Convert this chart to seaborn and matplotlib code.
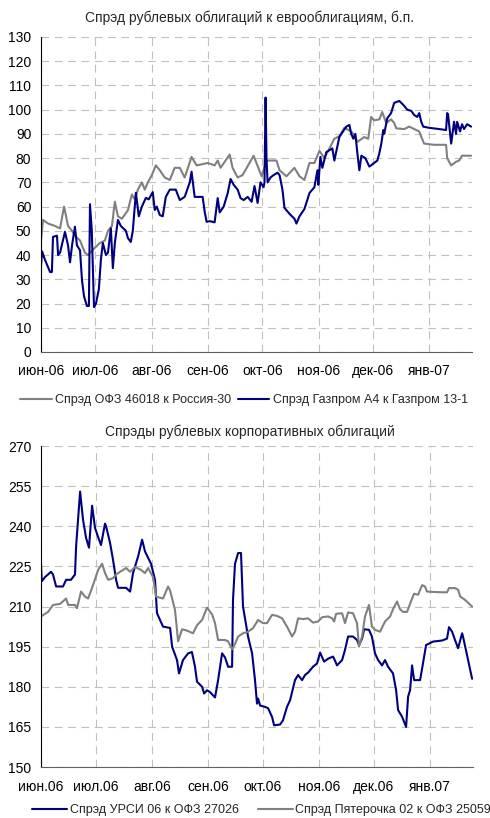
import pandas as pd
import matplotlib
matplotlib.use('Agg')
import matplotlib.pyplot as plt
import seaborn as sns

sns.set_style('white')
plt.rcParams['font.family'] = ['Liberation Sans', 'DejaVu Sans']

start = pd.Timestamp('2006-06-01')
month_starts = pd.date_range('2006-06-01', '2007-01-01', freq='MS')
top_labels = ['июн-06', 'июл-06', 'авг-06', 'сен-06', 'окт-06', 'ноя-06', 'дек-06', 'янв-07']
bottom_labels = ['июн.06', 'июл.06', 'авг.06', 'сен.06', 'окт.06', 'ноя.06', 'дек.06', 'янв.07']

# days since 1 June 2006 and spread values
ofz_days = [0, 1.1, 3.9, 7.7, 10.5, 12.7, 14.9, 17.1, 18.7, 21.5, 24.2, 25.9, 29.7, 32.5, 35.2,
            36.9, 39.1, 40.7, 42.4, 44.6, 47.9, 50.1, 51.7, 53.4, 55.6, 57.2, 58.9, 61.1, 63.3,
            65.5, 68.2, 71, 73.7, 76.5, 79.2, 83, 85.8, 91.9, 95.7, 97.4, 99, 104, 105.6, 108.4,
            111.1, 117.2, 121.6, 124.3, 129.8, 131.5, 135.3, 139.7, 142.5, 145.2, 148, 150.7,
            153.5, 156.2, 159, 161.7, 164.5, 167.2, 171, 172.7, 174.4, 178.2, 180.4, 182, 183.7,
            186.5, 188.1, 190.3, 193, 194.7, 195.8, 200.2, 203, 205.7, 208.5, 209.6, 211.2,
            216.7, 223.3, 223.9, 226.1, 228.8, 230.5, 232.1, 237.1]
ofz_spread = [46, 54.5, 53, 52, 51, 60, 52, 50, 48, 46, 41, 40, 43, 45, 46,
              50, 52, 62, 56, 55, 58.5, 65, 63, 67, 70, 67, 70, 73, 77,
              75, 72, 71, 76, 76, 72, 80.5, 77, 78, 77, 79, 76, 81.5, 76, 72,
              73, 81, 72.5, 79, 79, 75, 72.5, 76, 72.5, 71, 78, 78,
              83, 80, 84, 88, 89, 92.5, 91, 89.6, 86.7, 88.7, 88, 97, 95.6,
              96, 99, 94.5, 96, 94.5, 92.3, 92, 93, 92, 91, 88.8, 86,
              85.5, 85.5, 80, 77, 78.5, 79, 81, 81]

gazprom_days = [0, 0.6, 2.2, 5, 6, 6.6, 8.8, 9.4, 10.5, 13.2, 14.9, 16, 17.1, 18.7, 19.8, 21.5,
                22.6, 23.7, 25.3, 26.4, 27, 28, 29.2, 30.3, 31.9, 33, 34.1, 35.8, 36.9, 38.5,
                39.6, 40.7, 42.4, 44, 46.8, 47.9, 49.5, 50.6, 52.3, 53.9, 55.6, 57.8, 59.4,
                61.6, 62.7, 63.8, 65.5, 67.1, 68.8, 71, 74.3, 76.5, 79.2, 82, 83, 84.7, 86.4,
                89.1, 90.2, 91.3, 93, 95.7, 97.4, 98.5, 100.7, 102.9, 104.5, 106.2, 108.4, 110,
                111.7, 113.9, 116.1, 117.7, 119.4, 121, 122.7, 123.2, 123.8, 124.3, 124.9, 126.5,
                128.2, 130.4, 131.5, 133.1, 134.2, 137, 139.7, 140.8, 142.5, 145.2, 148, 150.7,
                152.4, 152.9, 154, 155.1, 157.3, 160.6, 161.7, 164.5, 168.3, 170, 171, 172.2,
                173.3, 174.4, 175.5, 176.6, 178.8, 181, 183.7, 185.4, 186.5, 187.6, 188.7, 189.2,
                190.9, 193, 194.7, 197.5, 199.7, 201.9, 204.1, 205.7, 207.4, 208.5, 209.6, 210.7,
                214, 219.5, 223.3, 223.9, 224.4, 226.1, 227.7, 228.8, 229.4, 231, 232.1, 233.2,
                234.9, 237.1]
gazprom_spread = [35.5, 41.5, 38, 33, 33, 47.5, 48, 40, 41, 49.6, 44, 37, 44, 51.7, 44, 42,
                  29.6, 23, 19, 19, 61, 50, 18.5, 20, 26, 38, 45, 40, 41, 51,
                  34.6, 45, 54.5, 52, 50, 47, 45.4, 50, 65.7, 56, 60, 63.6, 63,
                  66, 58.6, 60, 56.5, 56, 64, 67, 67, 62.7, 64, 70, 74.4, 64, 64,
                  64, 58, 53.7, 54, 53.5, 63.5, 57.6, 60, 65.5, 71.4, 69, 67, 63.5,
                  62.7, 64, 62, 68.5, 61.5, 70, 68, 70, 105, 80, 70, 72,
                  73, 74, 73, 67, 59.5, 57, 55, 53, 56, 59, 65.6, 68,
                  75, 69, 80.5, 76, 82.5, 84, 79, 88.8, 93, 93.7, 90, 88,
                  90, 82, 75, 81, 80, 76.5, 78, 79, 82, 86, 91.6, 90,
                  96.5, 98.6, 102.8, 103.6, 102, 100, 99.5, 97.8, 97, 98.6, 95, 93,
                  92.5, 92, 91.6, 98.6, 98, 86, 95, 90, 95, 91, 94, 92,
                  94, 93]

ursi_days = [0, 0.4, 2.2, 5.5, 6.6, 8.3, 12.1, 13.8, 16.5, 18.7, 19.3, 21.5, 23.1, 24.8, 26.4, 28.1,
             29.7, 31.4, 33, 35.2, 35.8, 38, 39.6, 41.3, 42.4, 46.8, 49, 50.6, 53.4, 55.6, 57.2,
             60.5, 62.7, 63.8, 67.1, 71, 72.1, 74.8, 75.9, 78.1, 80.9, 83, 84.7, 85.8, 88.6,
             89.7, 91.3, 93, 95.7, 97.4, 99.6, 101.2, 102.9, 105.1, 105.6, 106.7, 108.4, 110,
             111.1, 113.9, 116.1, 117.7, 118.8, 119.4, 120.5, 123.2, 124.9, 127.1, 128.2, 131.5,
             133.1, 135.3, 137, 139.7, 141.4, 143.6, 145.2, 146.9, 149.6, 151.8, 153.5, 155.7,
             157.9, 160.6, 161.7, 162.8, 165.6, 167.2, 168.9, 171.6, 173.8, 174.9, 176.6, 177.7,
             180.4, 182, 183.7, 185.4, 187.6, 189.2, 190.9, 193.6, 195.3, 196.4, 198.6, 200.8,
             201.9, 203, 204.1, 205.2, 208.5, 210.1, 211.8, 215.6, 220.6, 223.3, 224.4, 226.1,
             227.7, 229.4, 231.6, 232.1, 234.9, 237.1]
ursi_spread = [226, 219.4, 221, 223, 222, 217.5, 217.5, 220, 220, 222, 232.5, 253, 242.5, 235.6, 232, 247.7,
               239.4, 236, 233, 241, 240, 233.7, 227.5, 220, 217, 217, 215.6, 222.5, 228.7, 235, 230.6,
               226, 220, 207.5, 202.5, 202, 195, 190, 185, 190, 192.5, 193, 187.5, 181.9, 180,
               177.5, 178.7, 178, 176, 182.5, 192.5, 191, 187.5, 187.5, 212.5, 226, 230, 230,
               210, 198.7, 192.5, 182.5, 173.7, 175.6, 173, 172.5, 172, 168.7, 165.6, 165.9,
               167.5, 172.5, 175, 182.5, 184.4, 182.5, 184.4, 185.3, 187.5, 188.7, 192.8, 189.4,
               190.5, 191.3, 189.8, 188, 190, 193.8, 198.8, 198.8, 197.5, 195.6, 198, 201.5,
               201.3, 198.8, 192.5, 190, 188, 190, 187.5, 185, 178.8, 171.3, 168.8, 165,
               176.3, 178.8, 188, 182.5, 182.5, 188.8, 195.6, 196.9, 197.3, 198, 202.3, 200.6,
               197.5, 194.4, 200, 198.8, 190, 183]

pyat_days = [0, 3.9, 6.6, 10.5, 13.8, 14.9, 18.7, 19.8, 22, 24.2, 25.9, 28.6, 31.4, 33.6, 35.2,
             36.9, 39.6, 41.3, 43.5, 46.8, 49, 51.7, 55, 57.2, 58.9, 61.6, 63.3, 67.1, 69.9, 71,
             73.7, 75.4, 77.6, 80.3, 83.6, 85.8, 88.6, 91.3, 94.1, 95.7, 97.4, 101.2, 102.9,
             105.1, 106.7, 108.4, 111.1, 113.9, 116.6, 119.4, 122.1, 124.3, 127.1, 129.8, 132.6,
             135.3, 138.1, 139.7, 141.4, 144.1, 146.9, 149.6, 152.4, 154.6, 157.9, 160.1, 161.2,
             162.3, 165.6, 167.2, 168.9, 171.6, 173.8, 174.9, 176.6, 178.2, 180.4, 182, 183.7,
             186.5, 189.2, 192, 193.6, 195.8, 197.5, 199.1, 201.3, 204.1, 205.2, 207.4, 209.6,
             211.2, 212.3, 217.8, 223.3, 224.4, 227.7, 229.4, 230.5, 233.2, 237.1]
pyat_spread = [206.3, 208, 210.6, 211, 213, 210.6, 210.6, 209.4, 215.6, 213.7, 213, 218, 223.7, 226, 222.5,
               220, 220.6, 222, 223, 224.4, 223, 224.8, 223.7, 222.5, 224.4, 221, 213.7, 213, 217.5, 216,
               208.7, 197, 201.5, 201, 200, 203, 205, 209.6, 207, 203.8, 197.5, 197.5, 197,
               194, 196, 198.8, 200, 200.6, 201.9, 205, 203.8, 203.8, 206.9, 206.5, 205.6,
               202.5, 198.8, 200.6, 205.6, 205.3, 205.6, 204, 204.4, 206, 206.3, 205.6, 204.4,
               207.3, 207.5, 203.8, 207.8, 207.5, 203.8, 195, 198.8, 206.3, 210.6, 202.5, 201.3,
               200.6, 204.4, 206.3, 209, 211.9, 209, 208, 208, 213, 214.8, 214.4, 218,
               217.5, 215.6, 215.4, 215.3, 216.9, 216.9, 216.3, 213.8, 212.5, 210]

navy = '#000080'
grey = '#808080'


def to_frame(days, values):
    return pd.DataFrame({'date': start + pd.to_timedelta(days, unit='D'), 'value': values})


def style_axes(ax, yticks, labels):
    ax.set_xlim(start, start + pd.Timedelta(days=237.6))
    ax.set_ylim(yticks[0], yticks[-1])
    ax.set_yticks(yticks)
    ax.set_xticks(month_starts)
    ax.set_xticklabels(labels)
    ax.set_xlabel('')
    ax.set_ylabel('')
    ax.grid(True, color='#c0c0c0', linestyle=(0, (7, 5)), linewidth=0.8)
    ax.set_axisbelow(True)
    ax.tick_params(length=0, labelsize=10, colors='black')
    ax.tick_params(axis='x', pad=9)
    ax.tick_params(axis='y', pad=7)
    for s in ['top', 'right']:
        ax.spines[s].set_visible(False)
    ax.spines['left'].set_color('black')
    ax.spines['bottom'].set_color('#606060')


fig = plt.figure(figsize=(4.9, 8.18), dpi=100)
ax1 = fig.add_axes([0.0837, 0.5697, 0.8796, 0.3851])
ax2 = fig.add_axes([0.0837, 0.0623, 0.8816, 0.3924])

sns.lineplot(data=to_frame(ofz_days, ofz_spread), x='date', y='value', ax=ax1, color=grey,
             linewidth=1.5, estimator=None, sort=False, legend=False,
             label='Спрэд ОФЗ 46018 к Россия-30')
sns.lineplot(data=to_frame(gazprom_days, gazprom_spread), x='date', y='value', ax=ax1, color=navy,
             linewidth=1.5, estimator=None, sort=False, legend=False,
             label='Спрэд Газпром А4 к Газпром 13-1')
style_axes(ax1, list(range(0, 131, 10)), top_labels)

sns.lineplot(data=to_frame(ursi_days, ursi_spread), x='date', y='value', ax=ax2, color=navy,
             linewidth=1.5, estimator=None, sort=False, legend=False,
             label='Спрэд УРСИ 06 к ОФЗ 27026')
sns.lineplot(data=to_frame(pyat_days, pyat_spread), x='date', y='value', ax=ax2, color=grey,
             linewidth=1.5, estimator=None, sort=False, legend=False,
             label='Спрэд Пятерочка 02 к ОФЗ 25059')
style_axes(ax2, list(range(150, 271, 15)), bottom_labels)

fig.text(0.51, 1 - 18 / 818, 'Спрэд рублевых облигаций к еврооблигациям, б.п.',
         ha='center', va='center', fontsize=10)
fig.text(0.51, 1 - 432 / 818, 'Спрэды рублевых корпоративных облигаций',
         ha='center', va='center', fontsize=10)

h, l = ax1.get_legend_handles_labels()
fig.legend(h, l, loc='center', bbox_to_anchor=(0.498, 1 - 400 / 818), ncol=2, frameon=False,
           fontsize=9, handlelength=2.5, handletextpad=0.3, columnspacing=0.5)
h, l = ax2.get_legend_handles_labels()
fig.legend(h, l, loc='center', bbox_to_anchor=(0.534, 1 - 810 / 818), ncol=2, frameon=False,
           fontsize=9, handlelength=2.8, handletextpad=0.2, columnspacing=1.5)

fig.savefig('out.png', dpi=100)
